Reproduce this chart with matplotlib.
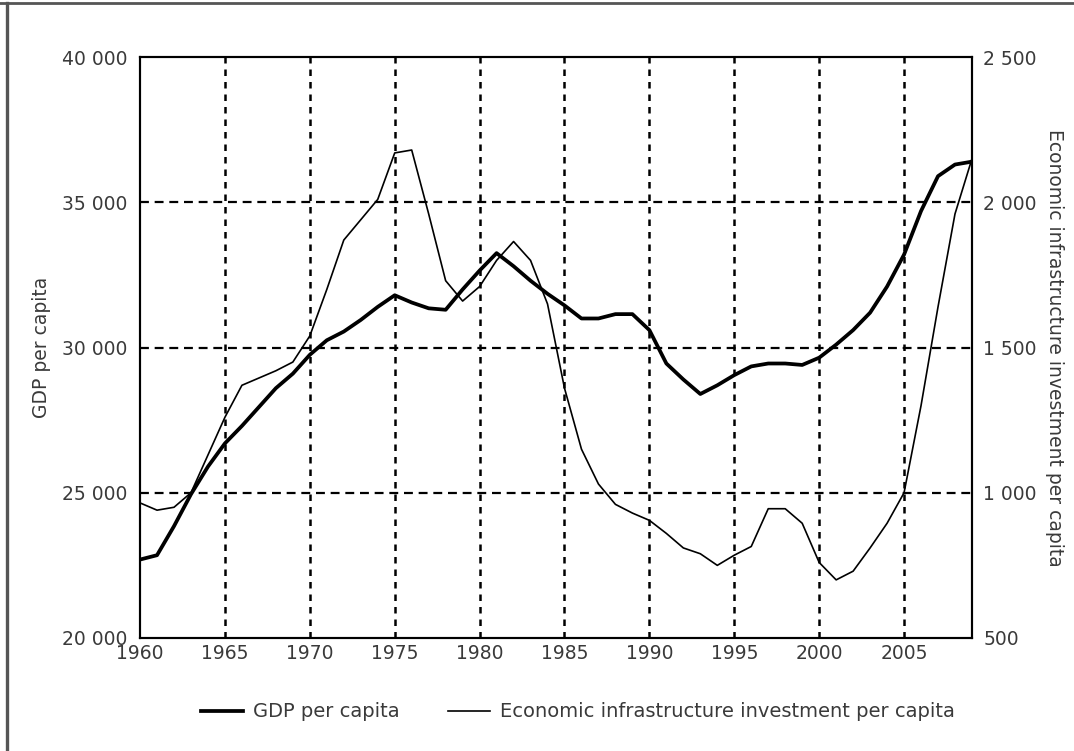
import numpy as np
import matplotlib.pyplot as plt
from matplotlib.lines import Line2D
from matplotlib.ticker import FuncFormatter

plt.rcParams['font.family'] = ['DejaVu Sans']

years = list(range(1960, 2010))

gdp = [22700, 22850, 23850, 24950, 25900, 26700, 27300, 27950, 28600, 29100,
       29750, 30250, 30550, 30950, 31400, 31800, 31550, 31350, 31300, 32000,
       32650, 33250, 32800, 32300, 31850, 31450, 31000, 31000, 31150, 31150,
       30600, 29450, 28900, 28400, 28700, 29050, 29350, 29450, 29450, 29400,
       29650, 30100, 30600, 31200, 32100, 33200, 34700, 35900, 36300, 36400]

infra = [965, 940, 950, 1000, 1130, 1260, 1370, 1395, 1420, 1450,
         1540, 1700, 1870, 1940, 2010, 2170, 2180, 1960, 1730, 1660,
         1710, 1800, 1865, 1800, 1650, 1360, 1150, 1030, 960, 930,
         905, 860, 810, 790, 750, 785, 815, 945, 945, 895,
         760, 700, 730, 810, 895, 1000, 1300, 1640, 1960, 2150]

x_ticks = list(range(1960, 2010, 5))
gdp_ticks = [20000, 25000, 30000, 35000, 40000]
infra_ticks = [500, 1000, 1500, 2000, 2500]

txt = '#3a3a3a'


def spaced(v, pos=None):
    return f'{int(v):,}'.replace(',', ' ')


fig = plt.figure(figsize=(10.74, 7.51), dpi=100)
ax = fig.add_axes([0.1304, 0.1505, 0.7746, 0.7735])
ax2 = ax.twinx()

# dashed grid, only at interior ticks
for x in x_ticks[1:]:
    ax.axvline(x, color='black', lw=1.8, ls=(0, (2.6, 2.4)), zorder=1)
for y in gdp_ticks[1:-1]:
    ax.axhline(y, color='black', lw=1.6, ls=(0, (4, 2.6)), zorder=1)

l1, = ax.plot(years, gdp, color='black', lw=2.7, zorder=3, label='GDP per capita')
l2, = ax2.plot(years, infra, color='black', lw=1.2, zorder=3,
               label='Economic infrastructure investment per capita')

ax.set_xlim(1960, 2009)
ax.set_ylim(20000, 40000)
ax2.set_ylim(500, 2500)
ax.set_xticks(x_ticks)
ax.set_yticks(gdp_ticks)
ax2.set_yticks(infra_ticks)
ax.yaxis.set_major_formatter(FuncFormatter(spaced))
ax2.yaxis.set_major_formatter(FuncFormatter(spaced))

ax.tick_params(axis='y', length=0, labelsize=13.5, colors=txt, pad=9)
ax.tick_params(axis='x', length=0, labelsize=13.5, colors=txt, pad=4)
ax2.tick_params(axis='y', length=0, labelsize=13.5, colors=txt, pad=8)
for a in (ax, ax2):
    for s in a.spines.values():
        s.set_linewidth(1.5)
        s.set_color('black')

ax.set_ylabel('GDP per capita', fontsize=13.5, color=txt, labelpad=8)
ax2.set_ylabel('Economic infrastructure investment per capita', fontsize=13.5,
               color=txt, rotation=-90, labelpad=20)

fig.legend(handles=[l1, l2], loc='center', bbox_to_anchor=(0.538, 0.052), ncol=2,
           frameon=False, fontsize=14, handlelength=2.15, handletextpad=0.5,
           columnspacing=2.5, labelcolor=txt)

# scanned page edge: top and left only
fig.add_artist(Line2D([0, 1], [0.996, 0.996], transform=fig.transFigure,
                      color='#555555', lw=2))
fig.add_artist(Line2D([0.0065, 0.0065], [0, 0.996], transform=fig.transFigure,
                      color='#555555', lw=2.4))

fig.savefig('out.png', dpi=100)
